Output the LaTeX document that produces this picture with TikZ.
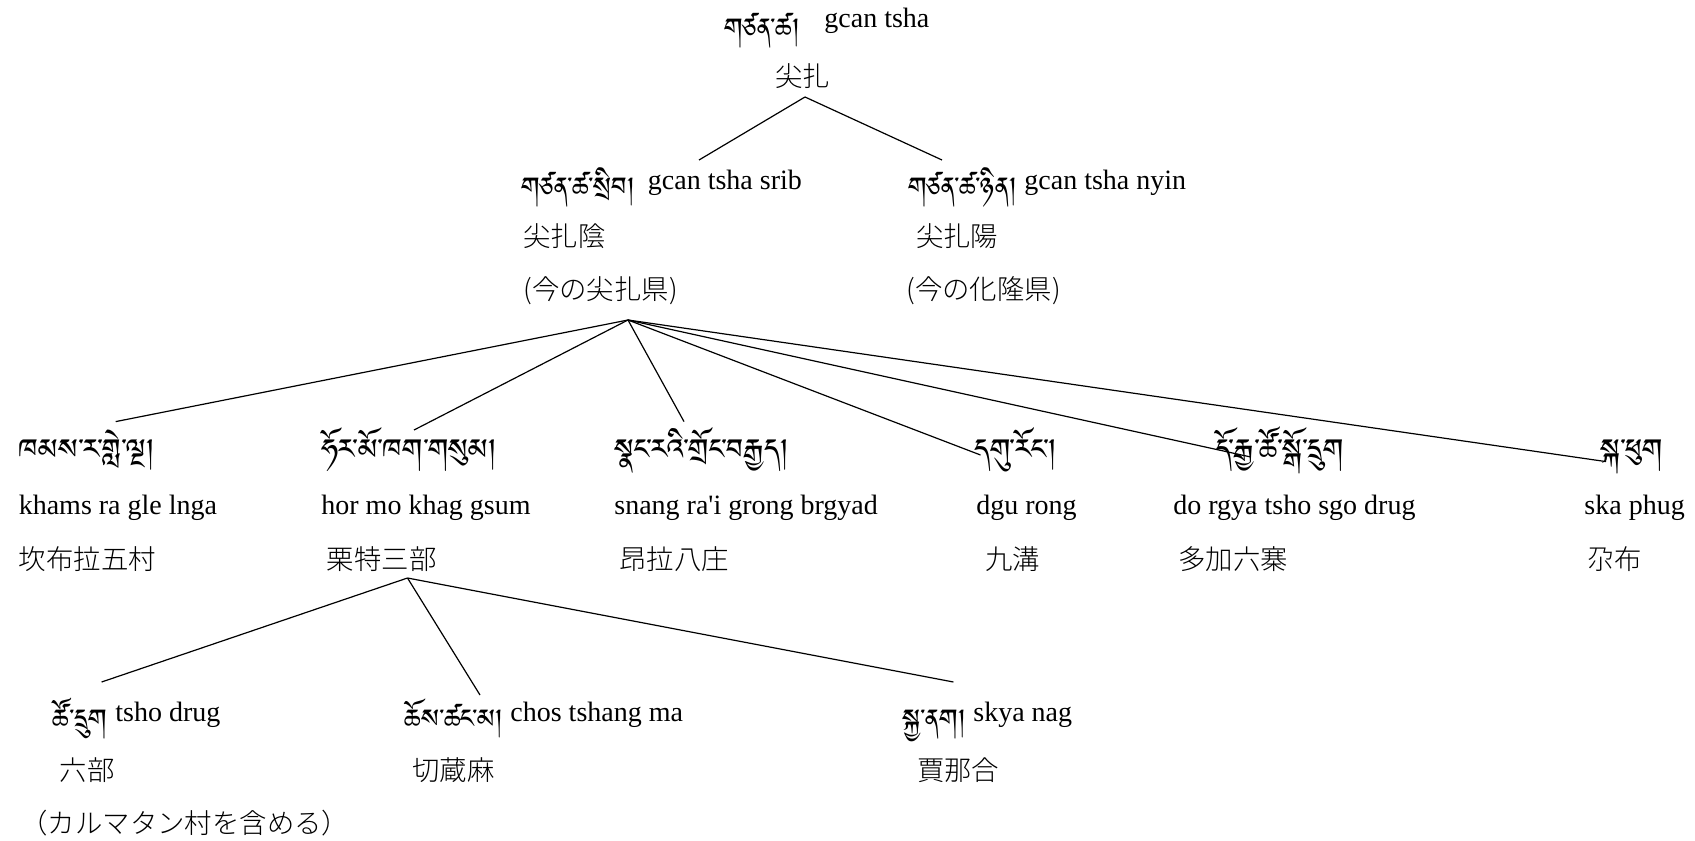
\documentclass[tikz,border=0pt]{standalone}
\usepackage{fontspec}
\newfontfamily\ser{Liberation Serif}
\IfFontExistsTF{Noto Sans CJK JP Light}{\newfontfamily\cjk{Noto Sans CJK JP Light}}{\newfontfamily\cjk{Noto Sans CJK JP}}
\IfFontExistsTF{Tibetan Machine Uni}{\newfontfamily\tib[Script=Tibetan]{Tibetan Machine Uni}}{%
 \IfFontExistsTF{Jomolhari}{\newfontfamily\tib[Script=Tibetan]{Jomolhari}}{%
  \IfFontExistsTF{Noto Serif Tibetan}{\newfontfamily\tib[Script=Tibetan]{Noto Serif Tibetan}}{%
   \IfFontExistsTF{Noto Sans Tibetan}{\newfontfamily\tib[Script=Tibetan]{Noto Sans Tibetan}}{%
    \newfontfamily\tib{DejaVu Sans}}}}}
\tikzset{
  lat/.style={anchor=base west, inner sep=0pt, font=\fontsize{14}{17}\selectfont\ser},
  tb/.style={anchor=base east, inner sep=0pt, font=\fontsize{16.5}{20}\selectfont\tib},
  tbl/.style={anchor=base west, inner sep=0pt, font=\fontsize{18}{20}\selectfont\tib},
  cj/.style={anchor=west, inner sep=0pt, font=\fontsize{13.7}{17}\selectfont\cjk},
  link/.style={line width=0.6pt, black}
}
\begin{document}
\begin{tikzpicture}[x=0.5pt, y=-0.5pt]
\useasboundingbox (0,0) rectangle (1695,840);
% level 0
\node[lat] (l0) at (824,28) {gcan tsha};
\node[tb]  (t0) at ([xshift=-12pt, yshift=-8pt]l0.base west) {གཙན་ཚ།};
\node[cj]  (c0) at (775,76.5) {尖扎};
% level 1
\node[lat] (l1) at (647.5,189) {gcan tsha srib};
\node[tb]  (t1) at ([xshift=-6pt, yshift=-6.5pt]l1.base west) {གཙན་ཚ་སྲིབ།};
\node[cj]  (c1) at (523,236.5) {尖扎陰};
\node[cj]  (p1) at (523,290.5) {(今の尖扎県)};
\node[lat] (l2) at (1024,189) {gcan tsha nyin};
\node[tb]  (t2) at ([xshift=-3.5pt, yshift=-6.5pt]l2.base west) {གཙན་ཚ་ཉིན།};
\node[cj]  (c2) at (915.6,236.5) {尖扎陽};
\node[cj]  (p2) at (906,290.5) {(今の化隆県)};
% level 2
\node[tbl] (tk) at (18.4,466) {ཁམས་ར་གླེ་ལྔ།};
\node[lat] (lk) at (18.4,514) {khams ra gle lnga};
\node[cj]  (ck) at (18.4,559) {坎布拉五村};
\node[tbl] (th) at (321,466) {ཧོར་མོ་ཁག་གསུམ།};
\node[lat] (lh) at (321,514) {hor mo khag gsum};
\node[cj]  (ch) at (326.5,559) {栗特三部};
\node[tbl] (ts) at (614,466) {སྣང་རའི་གྲོང་བརྒྱད།};
\node[lat] (ls) at (614,514) {snang ra'i grong brgyad};
\node[cj]  (cs) at (619,559) {昂拉八庄};
\node[tbl] (tg) at (974,466) {དགུ་རོང་།};
\node[lat] (lg) at (976,514) {dgu rong};
\node[cj]  (cg) at (985,559) {九溝};
\node[tbl] (td) at (1215,466) {དོ་རྒྱ་ཚོ་སྒོ་དྲུག};
\node[lat] (ld) at (1173,514) {do rgya tsho sgo drug};
\node[cj]  (cd) at (1178,559) {多加六寨};
\node[tbl] (tp) at (1600,466) {སྐ་ཕུག};
\node[lat] (lp) at (1584,514) {ska phug};
\node[cj]  (cp) at (1587,559) {尕布};
% level 3
\node[lat] (lt) at (115,721) {tsho drug};
\node[tb]  (tt) at ([xshift=-3.5pt, yshift=-6.5pt]lt.base west) {ཚོ་དྲུག};
\node[cj]  (ct) at (59.5,770) {六部};
\node[cj]  (pt) at (20,823) {（カルマタン村を含める）};
\node[lat] (lc) at (510,721) {chos tshang ma};
\node[tb]  (tc) at ([xshift=-3.5pt, yshift=-6.5pt]lc.base west) {ཆོས་ཚང་མ།};
\node[cj]  (cc) at (412,770) {切蔵麻};
\node[lat] (ly) at (973,721) {skya nag};
\node[tb]  (ty) at ([xshift=-3.5pt, yshift=-6.5pt]ly.base west) {སྐྱ་ནག།};
\node[cj]  (cy) at (916.7,770) {賈那合};
% connector points
\coordinate (a0) at (805,97);
\coordinate (e1) at (699,160);
\coordinate (e2) at (942,160);
\coordinate (a1) at (628,320);
\coordinate (ek) at (115.7,421.6);
\coordinate (eh) at (414,430);
\coordinate (es) at (684,421.6);
\coordinate (eg) at (980.5,455);
\coordinate (ed) at (1250.7,457);
\coordinate (ep) at (1606,461.6);
\coordinate (a2) at (407.5,578);
\coordinate (et) at (101.6,682);
\coordinate (ec) at (480,695);
\coordinate (ey) at (953.4,682);
\draw[link] (a0) -- (e1);
\draw[link] (a0) -- (e2);
\foreach \e in {ek,eh,es,eg,ed,ep} \draw[link] (a1) -- (\e);
\foreach \e in {et,ec,ey} \draw[link] (a2) -- (\e);
\end{tikzpicture}
\end{document}
